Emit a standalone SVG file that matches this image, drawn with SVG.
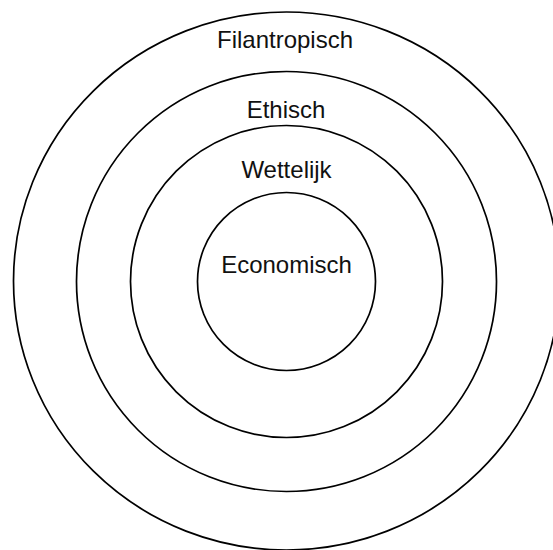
<svg xmlns="http://www.w3.org/2000/svg" width="553" height="550" viewBox="0 0 553 550">
<style>
.ring{fill:none;stroke:#000;stroke-width:1.7}
.lbl{font-family:"Liberation Sans",Arial,sans-serif;font-size:24px;fill:#111;text-anchor:middle}
</style>
<rect width="553" height="550" fill="#fff"/>
<g id="filantropisch"><ellipse class="ring" cx="286.5" cy="281" rx="273" ry="269"/><text class="lbl" x="285" y="48">Filantropisch</text></g>
<g id="ethisch"><circle class="ring" cx="286.5" cy="281.5" r="210"/><text class="lbl" x="286" y="118">Ethisch</text></g>
<g id="wettelijk"><circle class="ring" cx="286.5" cy="281.5" r="156"/><text class="lbl" x="286.5" y="178">Wettelijk</text></g>
<g id="economisch"><circle class="ring" cx="286.5" cy="281.5" r="89"/><text class="lbl" x="286.5" y="273">Economisch</text></g>
<g id="connectors"/>
</svg>
